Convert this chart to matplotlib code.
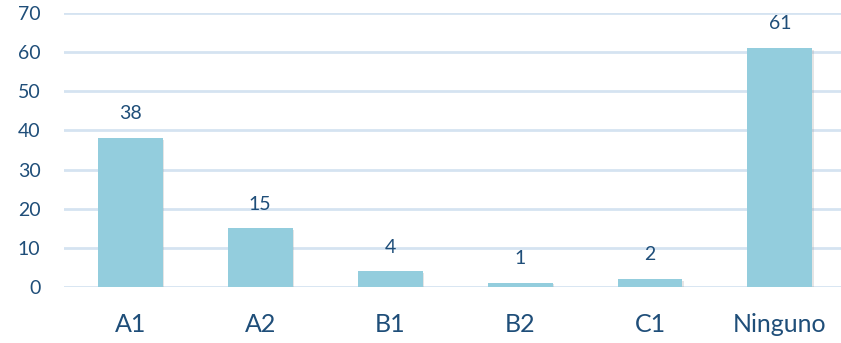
import matplotlib.pyplot as plt
import matplotlib.patheffects as pe

# Nivel de idioma declarado
niveles = ['A1', 'A2', 'B1', 'B2', 'C1', 'Ninguno']
conteos = [38, 15, 4, 1, 2, 61]

azul_barra = '#93CDDD'
azul_texto = '#1F4E79'
azul_rejilla = '#D5E3F1'

plt.rcParams['font.family'] = ['Lato', 'DejaVu Sans']

fig = plt.figure(figsize=(8.41, 3.43), dpi=100)
ax = fig.add_axes([64 / 841, 1 - 287 / 343, 1 - 64 / 841, 274 / 343])

x = list(range(len(niveles)))
barras = ax.bar(x, conteos, width=0.5, color=azul_barra, zorder=3)
for b in barras:
    b.set_path_effects([pe.SimplePatchShadow(offset=(1, -1), shadow_rgbFace='#999999', alpha=0.25),
                        pe.Normal()])

for xi, v in zip(x, conteos):
    ax.text(xi, v + 6.2, str(v), ha='center', va='center', fontsize=14, color=azul_texto)

ax.set_ylim(0, 70)
ax.set_xlim(-0.51, 5.47)
ax.set_yticks(range(0, 71, 10))
ax.set_xticks(x)
ax.set_xticklabels(niveles)
ax.yaxis.grid(True, color=azul_rejilla, linewidth=2, zorder=0)
ax.set_axisbelow(True)
for s in ax.spines.values():
    s.set_visible(False)
ax.tick_params(axis='both', length=0, colors=azul_texto)
ax.tick_params(axis='y', labelsize=14, pad=17)
ax.tick_params(axis='x', labelsize=18, pad=19)

fig.savefig('out.png', dpi=100)
